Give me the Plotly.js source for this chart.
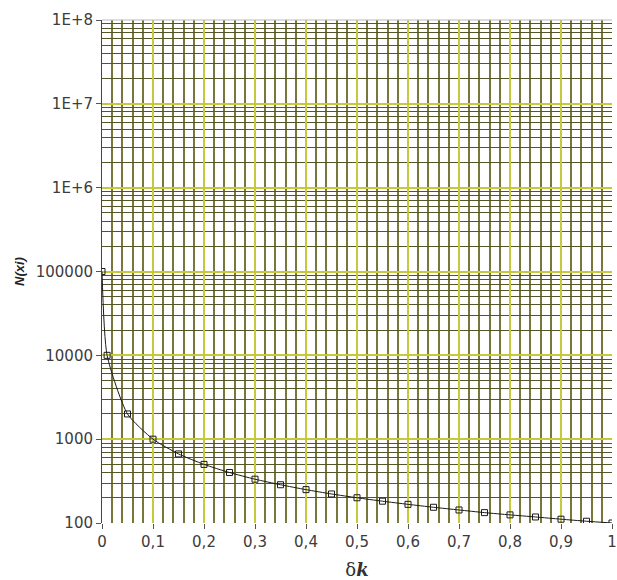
<!DOCTYPE html>
<html>
<head>
<meta charset="utf-8">
<script src="https://cdn.plot.ly/plotly-3.0.1.min.js"></script>
<style>html,body{margin:0;padding:0;background:#fff;}#chart{width:617px;height:580px;}</style>
</head>
<body>
<div id="chart"></div>
<script>
// Data
var deltaK = [0, 0.01, 0.05, 0.1, 0.15, 0.2, 0.25, 0.3, 0.35, 0.4, 0.45, 0.5, 0.55, 0.6, 0.65, 0.7, 0.75, 0.8, 0.85, 0.9, 0.95, 1];
var nXi = [100000, 10000, 2000, 1000, 667, 500, 400, 333, 286, 250, 222, 200, 182, 167, 154, 143, 133, 125, 118, 111, 105, 100];

var xTickVals = [0, 0.1, 0.2, 0.3, 0.4, 0.5, 0.6, 0.7, 0.8, 0.9, 1];
var xTickText = ['0', '0,1', '0,2', '0,3', '0,4', '0,5', '0,6', '0,7', '0,8', '0,9', '1'];
var yTickVals = [100, 1000, 10000, 100000, 1e6, 1e7, 1e8];
var yTickText = ['100', '1000', '10000', '100000', '1E+6', '1E+7', '1E+8'];

// minor log gridline positions (2..9 in every decade)
var yMinorVals = [];
for (var d = 0; d < yTickVals.length - 1; d++) {
  for (var m = 2; m <= 9; m++) yMinorVals.push(m * yTickVals[d]);
}

var majorGrid = '#c8c83c';
var minorGrid = '#55552a';
var tickFont = {family: 'DejaVu Sans, sans-serif', size: 15, color: '#3c3c3c'};

var trace = {
  x: deltaK,
  y: nXi,
  type: 'scatter',
  mode: 'lines+markers',
  line: {color: '#1a1a1a', width: 1, shape: 'spline', smoothing: 0.6},
  marker: {symbol: 'square-open', size: 6, color: '#1a1a1a', line: {width: 1}},
  hoverinfo: 'x+y'
};

var layout = {
  width: 617, height: 580,
  margin: {l: 102, r: 5, t: 20, b: 57},
  paper_bgcolor: '#fff', plot_bgcolor: '#fff',
  showlegend: false,
  font: tickFont,
  xaxis: {
    range: [0, 1],
    tickmode: 'array', tickvals: xTickVals, ticktext: xTickText,
    showgrid: true, gridcolor: majorGrid, gridwidth: 2,
    minor: {dtick: 0.02, showgrid: true, gridcolor: '#78783a', gridwidth: 2, ticks: ''},
    ticks: 'outside', ticklen: 5, tickcolor: '#555', tickwidth: 1,
    showline: false, zeroline: false,
    tickfont: tickFont,
    title: {text: 'δ<b><i>k</i></b>', font: {family: 'DejaVu Serif, Liberation Serif, serif', size: 18, color: '#333'}, standoff: 14},
    automargin: false
  },
  yaxis: {
    type: 'log',
    range: [2, 8],
    tickmode: 'array', tickvals: yTickVals, ticktext: yTickText,
    showgrid: true, gridcolor: majorGrid, gridwidth: 2,
    minor: {tickmode: 'array', tickvals: yMinorVals, showgrid: true, gridcolor: minorGrid, gridwidth: 1, ticks: ''},
    ticks: 'outside', ticklen: 5, tickcolor: '#555', tickwidth: 1,
    showline: true, linecolor: '#444', linewidth: 1,
    zeroline: false,
    tickfont: tickFont,
    title: {text: '<b><i>N(xi)</i></b>', font: {family: 'Liberation Sans, Arial, sans-serif', size: 13, color: '#222'}, standoff: 8},
    automargin: false
  },
  shapes: [
    {type: 'line', xref: 'paper', yref: 'paper', x0: 0, x1: 1, y0: 1, y1: 1, line: {color: '#bbbbbb', width: 1}, layer: 'above'}
  ]
};

Plotly.newPlot('chart', [trace], layout, {displayModeBar: false, staticPlot: true});
</script>
</body>
</html>
